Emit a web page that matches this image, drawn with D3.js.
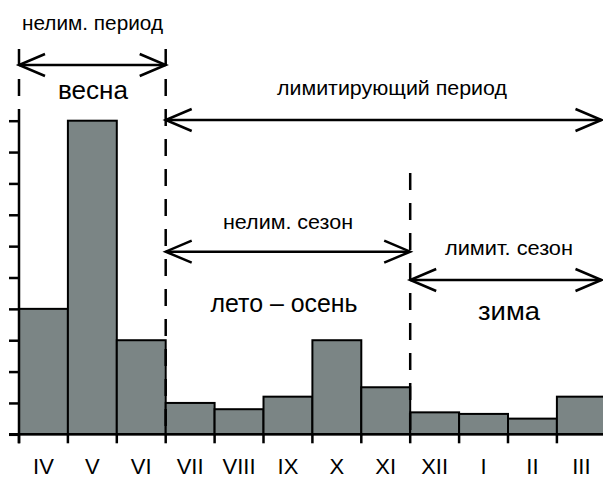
<!DOCTYPE html>
<html><head><meta charset="utf-8">
<script src="https://cdn.jsdelivr.net/npm/d3@7"></script>
<style>html,body{margin:0;padding:0;background:#fff;overflow:hidden}svg{display:block}</style>
</head><body>
<svg id="c" width="603" height="479"></svg>
<script>
const months = ["IV","V","VI","VII","VIII","IX","X","XI","XII","I","II","III"];
const values = [4, 10, 3, 1, 0.8, 1.2, 3, 1.5, 0.7, 0.65, 0.5, 1.2];
const yTickValues = [0,1,2,3,4,5,6,7,8,9,10];
// periods: [startBoundaryIndex, endBoundaryIndex, label]
const periodLabels = ["нелим. период", "лимитирующий период", "нелим. сезон", "лимит. сезон"];
const periodStart = [0, 3, 3, 8];
const periodEnd = [3, 12, 8, 12];
const seasonLabels = ["весна", "лето – осень", "зима"];

const W = 603, H = 479;
const svg = d3.select("#c");
const x = d3.scaleBand().domain(months).range([19, 605.8]).padding(0);
const y = d3.scaleLinear().domain([0, 10]).range([434.3, 120.7]);
const bx = i => i < months.length ? x(months[i]) : x.range()[1];
const FONT = "'Liberation Sans', Arial, sans-serif";

// bars
svg.append("g").selectAll("rect").data(values).join("rect")
  .attr("x", (d,i) => x(months[i]))
  .attr("y", d => y(d))
  .attr("width", x.bandwidth())
  .attr("height", d => y(0) - y(d))
  .attr("fill", "#7b8585")
  .attr("stroke", "#000")
  .attr("stroke-width", 2);

// y axis
const ya = svg.append("g").attr("transform", `translate(${x.range()[0]},0)`)
  .call(d3.axisLeft(y).tickValues(yTickValues).tickSize(10).tickFormat(""));
ya.select(".domain").remove();
ya.selectAll(".tick line").attr("stroke", "#000").attr("stroke-width", 2.5);
svg.append("line").attr("x1", x.range()[0]).attr("x2", x.range()[0])
  .attr("y1", 111).attr("y2", y(0) + 9).attr("stroke", "#000").attr("stroke-width", 2.5);

// x baseline
svg.append("line").attr("x1", 9).attr("x2", W).attr("y1", y(0)).attr("y2", y(0))
  .attr("stroke", "#000").attr("stroke-width", 2.5);
// x ticks at band edges
svg.append("g").selectAll("line").data(d3.range(months.length)).join("line")
  .attr("x1", i => bx(i)).attr("x2", i => bx(i))
  .attr("y1", y(0)).attr("y2", y(0) + 9)
  .attr("stroke", "#000").attr("stroke-width", 2.5);
// x labels
const xa = svg.append("g").attr("transform", `translate(0,${y(0)})`)
  .call(d3.axisBottom(x).tickSize(0));
xa.select(".domain").remove();
xa.selectAll("text").attr("font-family", FONT).attr("font-size", 22).attr("fill", "#000")
  .attr("dy", null).attr("y", 474 - y(0));

// dashed verticals
const dash = "17,13";
function vdash(xx, y1, y2) {
  svg.append("line").attr("x1", xx).attr("x2", xx).attr("y1", y1).attr("y2", y2)
    .attr("stroke", "#000").attr("stroke-width", 2.5).attr("stroke-dasharray", dash);
}
vdash(bx(0), 49, 111);
vdash(bx(3), 49, y(0));
vdash(bx(8), 173, y(0));

// arrows
const arrowY = [65, 120, 251.7, 280];
function arrow(x1, x2, yy) {
  const g = svg.append("g").attr("fill", "none").attr("stroke", "#000").attr("stroke-width", 2.5);
  g.append("line").attr("x1", x1).attr("x2", x2).attr("y1", yy).attr("y2", yy);
  g.append("polyline").attr("points", `${x1+26},${yy-11} ${x1},${yy} ${x1+26},${yy+11}`);
  g.append("polyline").attr("points", `${x2-26},${yy-11} ${x2},${yy} ${x2-26},${yy+11}`);
}
periodStart.forEach((s, i) => {
  arrow(bx(s), Math.min(bx(periodEnd[i]), W - 1.5), arrowY[i]);
});

function label(txt, cx, by, size, len) {
  svg.append("text").attr("x", cx).attr("y", by).attr("text-anchor", "middle")
    .attr("font-family", FONT).attr("font-size", size).attr("fill", "#000")
    .attr("textLength", len).attr("lengthAdjust", "spacingAndGlyphs")
    .text(txt);
}
label(periodLabels[0], 92.5, 30, 21, 141);
label(periodLabels[1], 392, 95, 21, 230);
label(periodLabels[2], 288, 228.5, 21, 130);
label(periodLabels[3], 509, 255, 21, 128);
label(seasonLabels[0], 93, 98.5, 26, 70);
label(seasonLabels[1], 284, 311.5, 26, 147);
label(seasonLabels[2], 509, 319.5, 26, 62);
</script>
</body></html>
